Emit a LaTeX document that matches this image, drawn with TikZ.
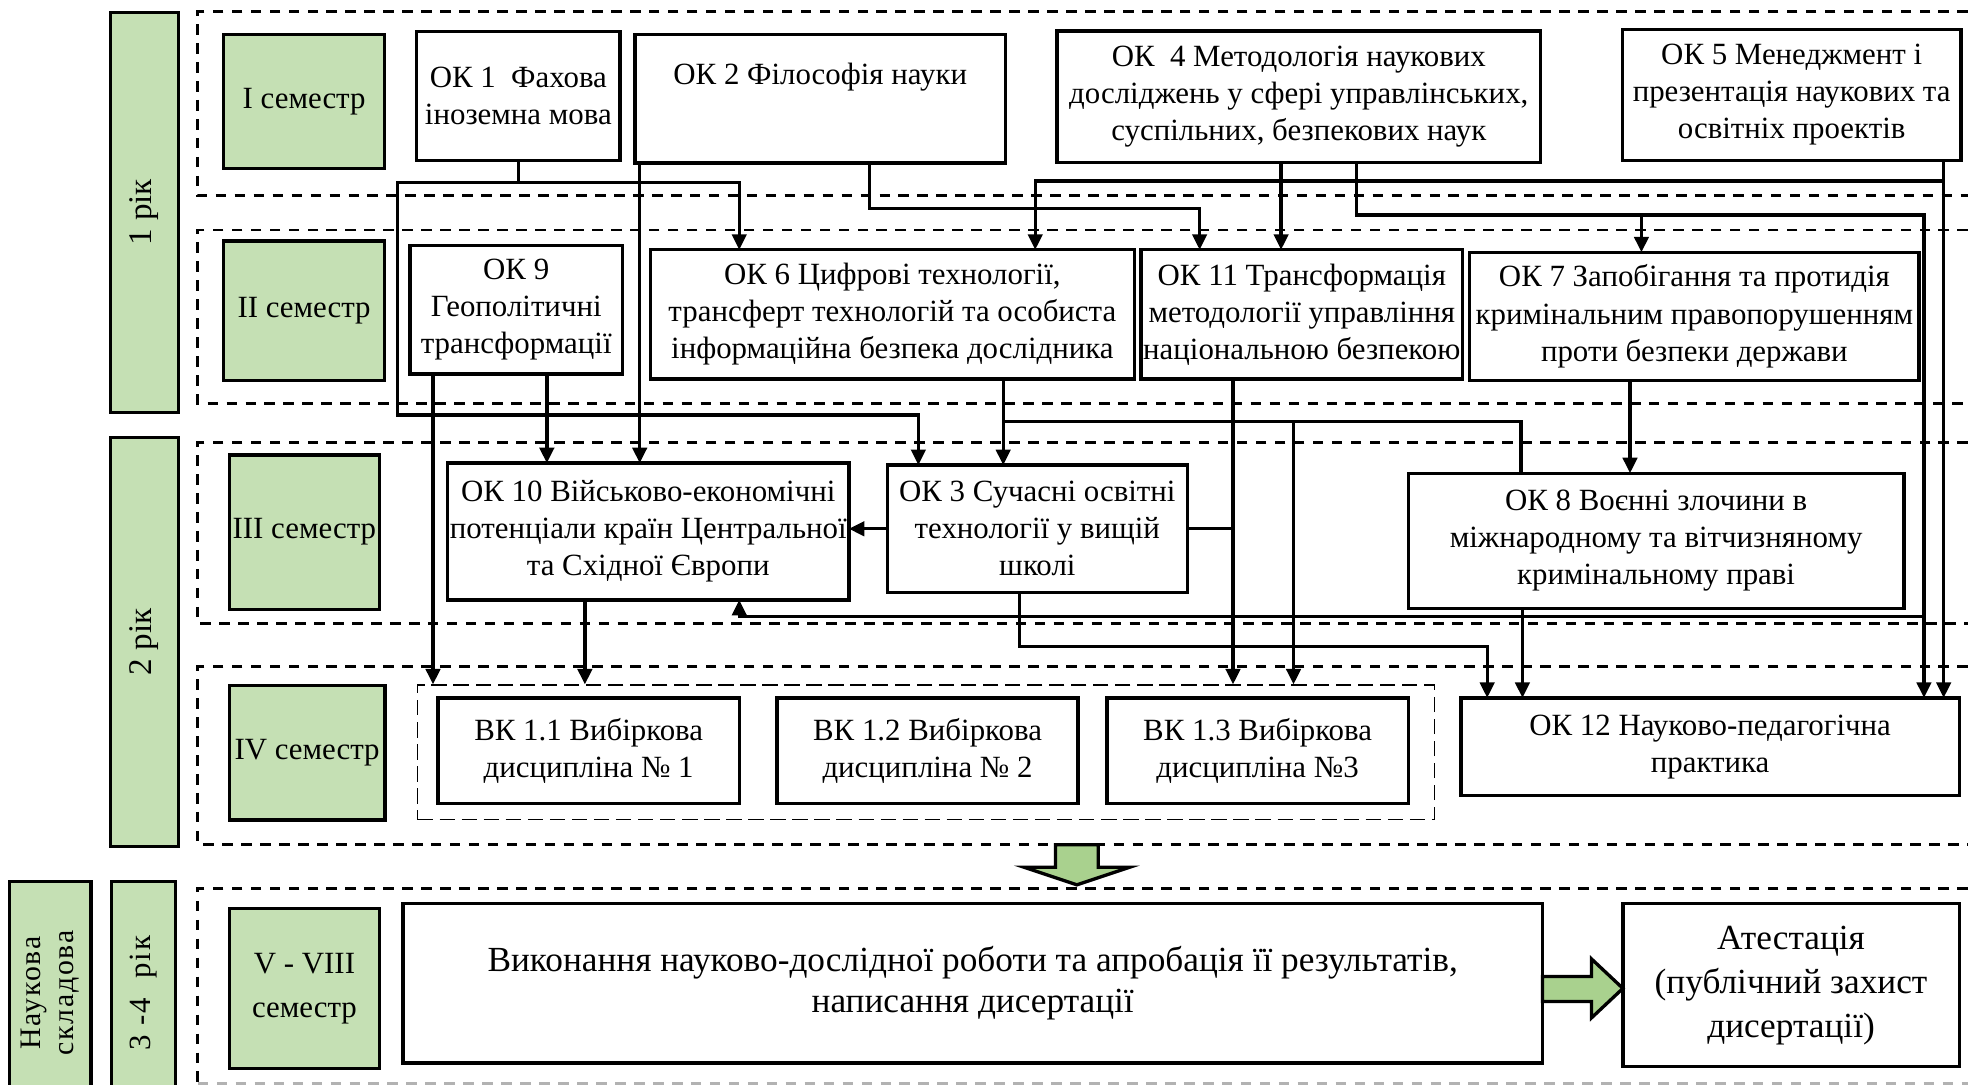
\documentclass[tikz,border=0pt]{standalone}
\usepackage{fontspec}
\setmainfont{Liberation Serif}
\usetikzlibrary{arrows.meta,calc}
\definecolor{semgreen}{HTML}{C5E0B4}
\definecolor{arrowgreen}{HTML}{A9D18E}
\tikzset{
 plan box/.style={draw,line width=1.5pt,align=center,inner sep=1pt,outer sep=0pt,
                  font=\fontsize{14}{16.8}\selectfont},
 plan sem/.style={plan box,fill=semgreen},
 plan year/.style={plan sem,rotate=90,font=\fontsize{15}{17}\selectfont},
 plan big/.style={plan box,font=\fontsize{16}{18.4}\selectfont},
 plan frame/.style={line width=1.3pt,dash pattern=on 4.8pt off 3.8pt},
 plan group/.style={draw,line width=.8pt,dash pattern=on 7pt off 3pt,inner sep=0pt},
 plan line/.style={line width=1.5pt},
 plan arrow/.style={plan line,-{Triangle[length=7pt,width=6.5pt]}},
 plan block/.style={draw,line width=1.5pt,fill=arrowgreen,line join=miter}
}

\begin{document}
\begin{tikzpicture}[x=0.02cm,y=-0.02cm]
 \useasboundingbox (0,0) rectangle (1568,864);

 % semester frames
 \foreach \t/\b in {9.3/156,183.3/321.4,352.7/496.6,531.2/672.7}
   \draw[plan frame] (1568,\t) -| (157.6,\b) -- (1568,\b);
 \draw[plan frame] (1568,707.8) -| (157.6,863);
 \draw[plan frame,black!30] (157.6,863) -- (1568,863);

 \node[plan year,minimum width=6.37cm,minimum height=1.08cm] (year1) at (115,169.2) {1 рік};
 \node[plan year,minimum width=6.52cm,minimum height=1.08cm] (year2) at (115,511.5) {2 рік};
 \node[plan year,minimum width=3.55cm,minimum height=1.02cm,
       font=\fontsize{14}{16}\selectfont\addfontfeature{LetterSpace=6}] (year34) at (114.5,791.3) {3 -4\ \ рік};
 \node[plan year,minimum width=3.55cm,minimum height=1.30cm,
       font=\fontsize{13.5}{15}\selectfont\addfontfeature{LetterSpace=6}] (science) at (40,791.3) {Наукова\\складова};

 \node[plan sem,minimum width=2.57cm,minimum height=2.14cm] (sem1) at (242.3,81) {I семестр};
 \node[plan sem,minimum width=2.57cm,minimum height=2.22cm] (sem2) at (242.3,247.5) {II семестр};
 \node[plan sem,minimum width=2.39cm,minimum height=2.46cm] (sem3) at (242.5,424) {III семестр};
 \node[plan sem,minimum width=2.48cm,minimum height=2.14cm] (sem4) at (244.7,599.8) {IV семестр};
 \node[plan sem,minimum width=2.39cm,minimum height=2.55cm,
       font=\fontsize{14}{20}\selectfont] (sem58) at (242.6,787.5) {V - VIII\\семестр};

 % 1 semester
 \node[plan box,minimum width=3.24cm,minimum height=2.05cm] (ok1) at (413,76.5)
   {ОК 1\ \ Фахова\\іноземна мова};
 \node[plan box,minimum width=5.90cm,minimum height=2.05cm] (ok2) at (653.5,78.6)
   {ОК 2 Філософія науки\\[6pt]\mbox{}};
 \node[plan box,minimum width=7.71cm,minimum height=2.09cm] (ok4) at (1034.8,77)
   {ОК\ \ 4 Методологія наукових\\досліджень у сфері управлінських,\\суспільних, безпекових наук};
 \node[plan box,minimum width=5.40cm,minimum height=2.09cm] (ok5) at (1427.5,75.6)
   {ОК 5 Менеджмент і\\презентація наукових та\\освітніх проектів};

 % 2 semester
 \node[plan box,minimum width=3.39cm,minimum height=2.05cm] (ok9) at (411.3,246.8)
   {ОК 9\\Геополітичні\\трансформації};
 \node[plan box,minimum width=7.72cm,minimum height=2.06cm] (ok6) at (711,250.5)
   {ОК 6 Цифрові технології,\\трансферт технологій та особиста\\інформаційна безпека дослідника};
 \node[plan box,minimum width=5.09cm,minimum height=2.06cm] (ok11) at (1037.2,250.5)
   {ОК 11 Трансформація\\методології управління\\національною безпекою};
 \node[plan box,minimum width=7.16cm,minimum height=2.04cm] (ok7) at (1350,252)
   {ОК 7 Запобігання та протидія\\кримінальним правопорушенням\\проти безпеки держави};

 % 3 semester
 \node[plan box,minimum width=6.22cm,minimum height=2.18cm] (ok10) at (516.5,423.5)
   {ОК 10 Військово-економічні\\потенціали країн Центральної\\та Східної Європи};
 \node[plan box,minimum width=4.78cm,minimum height=2.03cm] (ok3) at (826.5,421.3)
   {ОК 3 Сучасні освітні\\технології у вищій\\школі};
 \node[plan box,minimum width=7.90cm,minimum height=2.16cm] (ok8) at (1319.5,431)
   {ОК 8 Воєнні злочини в\\міжнародному та вітчизняному\\кримінальному праві};

 % 4 semester
 \node[plan group,minimum width=16.21cm,minimum height=2.14cm] (vkgrp) at (737.8,599.5) {};
 \node[plan box,minimum width=4.80cm,minimum height=1.68cm] (vk1) at (469,598)
   {ВК 1.1 Вибіркова\\дисципліна № 1};
 \node[plan box,minimum width=4.80cm,minimum height=1.68cm] (vk2) at (739,598)
   {ВК 1.2 Вибіркова\\дисципліна № 2};
 \node[plan box,minimum width=4.80cm,minimum height=1.68cm] (vk3) at (1002,598)
   {ВК 1.3 Вибіркова\\дисципліна №3};
 \node[plan box,minimum width=7.94cm,minimum height=1.56cm] (ok12) at (1362.5,595)
   {ОК 12 Науково-педагогічна\\практика};

 % 5-8 semester
 \node[plan big,minimum width=18.16cm,minimum height=2.54cm] (research) at (775,783.5)
   {Виконання науково-дослідної роботи та апробація її результатів,\\написання дисертації};
 \node[plan big,minimum width=5.36cm,minimum height=2.60cm,
       font=\fontsize{16}{20}\selectfont] (attest) at (1427,785)
   {Атестація\\(публічний захист\\дисертації)};

 \coordinate (j1) at (589,145.3);
 \coordinate (j2) at (316.6,330.6);
 \coordinate (j3) at (731.7,330.6);
 \coordinate (j4) at (509.7,0);
 \coordinate (j5) at (692.5,166);
 \coordinate (j6) at (955.8,166);
 \coordinate (j7) at (1020.7,0);
 \coordinate (j8) at (824.8,144.2);
 \coordinate (j9) at (1548.6,144.2);
 \coordinate (j10) at (1080.5,171.3);
 \coordinate (j11) at (1532.9,171.3);
 \coordinate (j12) at (1307.8,171.3);
 \coordinate (j13) at (589,491.3);
 \coordinate (j14) at (345,0);
 \coordinate (j15) at (435.7,0);
 \coordinate (j16) at (799.3,336);
 \coordinate (j17) at (1211.9,336);
 \coordinate (j18) at (1030.6,336);
 \coordinate (j19) at (982.4,0);
 \coordinate (j20) at (812.4,515.2);
 \coordinate (j21) at (1184.9,515.2);
 \coordinate (j22) at (1298.7,0);
 \coordinate (j23) at (1213,0);
 \coordinate (j24) at (466,0);

 \draw[plan arrow] (ok1.south) |- (j1) -- (j1 |- ok6.north);
 \draw[plan arrow] (ok1.south |- j1) -| (j2) -- (j3) -- (j3 |- ok3.north);
 \draw[plan arrow] (j4 |- ok2.south) -- (j4 |- ok10.north);
 \draw[plan arrow] (j5 |- ok2.south) |- (j6) -- (j6 |- ok11.north);
 \draw[plan arrow] (j7 |- ok4.south) -- (j7 |- ok11.north);
 \draw[plan arrow] (j9 |- ok5.south) -- (j9 |- ok12.north);
 \draw[plan arrow] (j9) -- (j8) -- (j8 |- ok6.north);
 \draw[plan arrow] (j10 |- ok4.south) |- (j11) -- (j11 |- ok12.north);
 \draw[plan arrow] (j12) -- (j12 |- ok7.north);
 \draw[plan arrow] (j11 |- j13) -- (j13) -- (j13 |- ok10.south);
 \draw[plan arrow] (j14 |- ok9.south) -- (j14 |- vkgrp.north);
 \draw[plan arrow] (j15 |- ok9.south) -- (j15 |- ok10.north);
 \draw[plan arrow] (j16 |- ok6.south) -- (j16 |- ok3.north);
 \draw[plan line] (j16) -- (j17) -- (j17 |- ok8.north);
 \draw[plan arrow] (j18) -- (j18 |- vkgrp.north);
 \draw[plan arrow] (j19 |- ok11.south) -- (j19 |- vkgrp.north);
 \draw[plan line] (ok3.east) -- (ok3.east -| j19);
 \draw[plan arrow] (ok3.west) -- (ok3.west -| ok10.east);
 \draw[plan arrow] (j20 |- ok3.south) |- (j21) -- (j21 |- ok12.north);
 \draw[plan arrow] (j22 |- ok7.south) -- (j22 |- ok8.north);
 \draw[plan arrow] (j23 |- ok8.south) -- (j23 |- ok12.north);
 \draw[plan arrow] (j24 |- ok10.south) -- (j24 |- vkgrp.north);

 % block arrows
 \draw[plan block] (841,673) -- (875,673) -- (875,691) -- (900,691) -- (858,705)
   -- (816,691) -- (841,691) -- cycle;
 \draw[plan block] (research.east |- 0,778) -- (1268,778) -- (1268,764) -- (attest.west |- 0,787.5)
   -- (1268,811) -- (1268,798) -- (research.east |- 0,798) -- cycle;
\end{tikzpicture}
\end{document}
